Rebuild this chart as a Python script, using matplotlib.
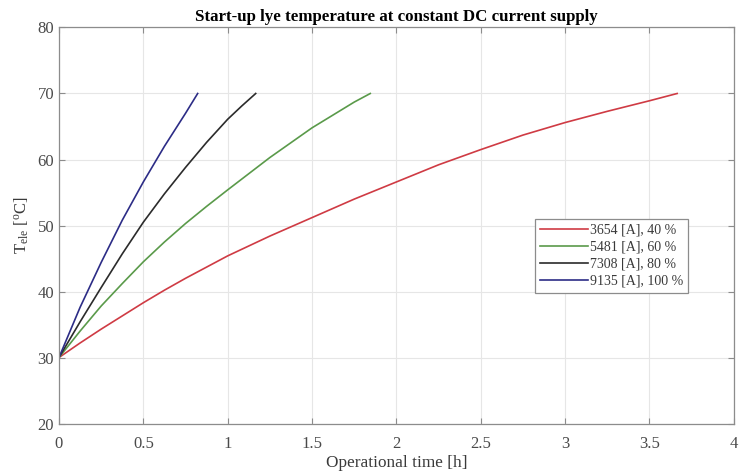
#!/usr/bin/env python
"""
Start-up lye temperature at constant DC current supply.
"""
import matplotlib
matplotlib.use("Agg")
import matplotlib.pyplot as plt  # type: ignore

plt.rc("font", family="Liberation Serif", size=10)
plt.rc("mathtext", fontset="custom", rm="Liberation Serif", it="Liberation Serif:italic")

# values (time in h, temperature in degC)
t_3654 = [0.0, 0.125, 0.25, 0.375, 0.5, 0.625, 0.75, 0.875, 1.0, 1.25, 1.5, 1.75,
          2.0, 2.25, 2.5, 2.75, 3.0, 3.25, 3.5, 3.664]
T_3654 = [30.0, 32.2, 34.3, 36.3, 38.3, 40.2, 42.0, 43.7, 45.4, 48.4, 51.2, 54.0,
          56.6, 59.2, 61.5, 63.7, 65.6, 67.3, 68.9, 70.0]

t_5481 = [0.0, 0.125, 0.25, 0.375, 0.5, 0.625, 0.75, 0.875, 1.0, 1.25, 1.5, 1.75, 1.845]
T_5481 = [30.0, 34.0, 37.8, 41.2, 44.5, 47.5, 50.3, 52.9, 55.4, 60.3, 64.8, 68.7, 70.0]

t_7308 = [0.0, 0.125, 0.25, 0.375, 0.5, 0.625, 0.75, 0.875, 1.0, 1.083, 1.166]
T_7308 = [30.0, 35.4, 40.6, 45.7, 50.5, 54.8, 58.8, 62.6, 66.1, 68.1, 70.0]

t_9135 = [0.0, 0.125, 0.25, 0.375, 0.5, 0.625, 0.75, 0.822]
T_9135 = [30.0, 37.6, 44.4, 50.8, 56.6, 62.0, 67.0, 70.0]

labels = ["3654 [A], 40 %", "5481 [A], 60 %", "7308 [A], 80 %", "9135 [A], 100 %"]
colors = ["#cf3b44", "#5a9a4a", "#2b2b2b", "#2c2c86"]

x_ticks = [0, 0.5, 1, 1.5, 2, 2.5, 3, 3.5, 4]
y_ticks = [20, 30, 40, 50, 60, 70, 80]


def main():
    fig = plt.figure(figsize=(7.4, 4.74), dpi=100)
    ax = fig.add_axes([0.0797, 0.1065, 0.912, 0.8355])

    series = [(t_3654, T_3654), (t_5481, T_5481), (t_7308, T_7308), (t_9135, T_9135)]
    for (t, T), lab, c in zip(series, labels, colors):
        ax.plot(t, T, color=c, lw=1.2, label=lab)

    ax.set_xlim(0, 4)
    ax.set_ylim(20, 80)
    ax.set_xticks(x_ticks)
    ax.set_xticklabels([f"{v:g}" for v in x_ticks])
    ax.set_yticks(y_ticks)
    ax.grid(True, color="#e6e6e6", lw=0.8)
    ax.set_axisbelow(True)
    ax.tick_params(direction="in", top=True, right=True, length=4, width=0.8,
                   color="#8c8c8c", labelcolor="#4a4a4a", labelsize=12)
    ax.tick_params(axis="x", pad=9)
    for s in ax.spines.values():
        s.set_color("#8c8c8c")
        s.set_linewidth(0.9)

    ax.set_title("Start-up lye temperature at constant DC current supply",
                 fontweight="bold", fontsize=12.2, pad=5)
    ax.set_xlabel("Operational time [h]", fontsize=12.4, color="#3a3a3a", labelpad=2)
    ax.set_ylabel(r"T$_{\rm ele}$ [$^{\rm o}$C]", fontsize=12, color="#3a3a3a", labelpad=5)

    leg = ax.legend(loc="lower left", bbox_to_anchor=(0.705, 0.33), fontsize=10,
                    fancybox=False, framealpha=1, edgecolor="#8c8c8c",
                    handlelength=3.5, handletextpad=0.1, labelspacing=0.3,
                    borderpad=0.35, borderaxespad=0)
    leg.get_frame().set_linewidth(0.9)
    for txt in leg.get_texts():
        txt.set_color("#3a3a3a")

    fig.savefig("out.png", dpi=100)


if __name__ == "__main__":
    main()
